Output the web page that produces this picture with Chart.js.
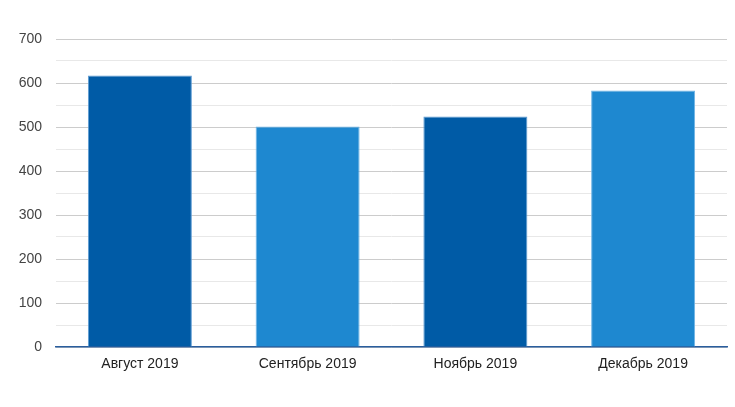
<!DOCTYPE html>
<html>
<head>
<meta charset="utf-8">
<script src="https://cdn.jsdelivr.net/npm/chart.js@4"></script>
<style>
  html, body { margin: 0; padding: 0; background: #fff; }
  #wrap { width: 735px; height: 407px; }
</style>
</head>
<body>
<div id="wrap"><canvas id="chart"></canvas></div>
<script>
'use strict';

const months = ['Август 2019', 'Сентябрь 2019', 'Ноябрь 2019', 'Декабрь 2019'];
const values = [617, 501, 524, 583];
const barColors = ['#005ba6', '#1e88d0', '#005ba6', '#1e88d0'];
const barEdges = ['#5d9bd3', '#6fb4e6', '#5d9bd3', '#6fb4e6'];
const yMax = 700;

Chart.defaults.font.family = '"Liberation Sans", Arial, sans-serif';
Chart.defaults.font.size = 14;
Chart.defaults.color = '#444';

new Chart(document.getElementById('chart').getContext('2d'), {
    type: 'bar',
    data: {
        labels: months,
        datasets: [{
            data: values,
            backgroundColor: barColors,
            borderColor: barEdges,
            borderWidth: 1,
            categoryPercentage: 0.62,
            barPercentage: 1
        }]
    },
    options: {
        responsive: true,
        maintainAspectRatio: false,
        animation: false,
        layout: { padding: { top: 39, right: 8, left: 0, bottom: 0 } },
        plugins: { legend: { display: false }, tooltip: { enabled: false } },
        scales: {
            x: {
                grid: { display: false, drawTicks: false },
                border: { display: true, color: '#2a5e9e', width: 1.5 },
                ticks: { padding: 9, color: '#222' },
                afterFit(scale) { scale.height = 60; }
            },
            y: {
                min: 0,
                max: yMax,
                border: { display: false },
                grid: {
                    drawTicks: false,
                    color: (ctx) => (ctx.tick && ctx.tick.value % 100 === 0) ? '#cccccc' : '#e8e8e8'
                },
                ticks: {
                    stepSize: 50,
                    padding: 14,
                    color: '#444',
                    callback: (v) => v % 100 === 0 ? v : ''
                },
                afterFit(scale) { scale.width = 56; }
            }
        }
    }
});
</script>
</body>
</html>
